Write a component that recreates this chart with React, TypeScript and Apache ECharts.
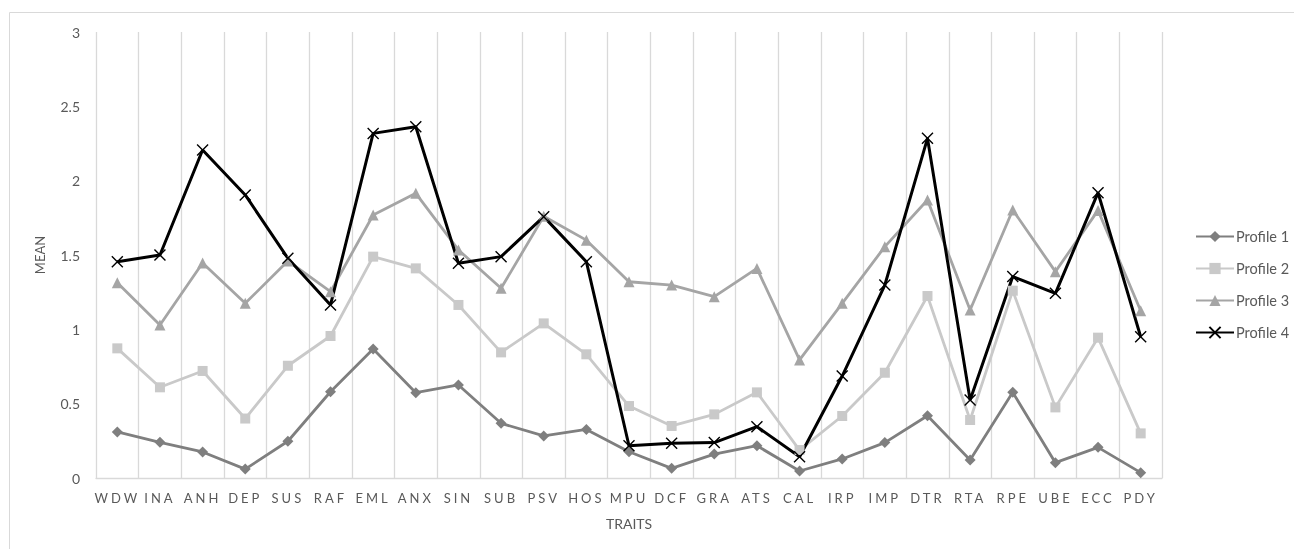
import React, { useEffect, useRef } from "react";
import * as echarts from "echarts";

const categories = ["WDW", "INA", "ANH", "DEP", "SUS", "RAF", "EML", "ANX", "SIN", "SUB", "PSV", "HOS", "MPU", "DCF", "GRA", "ATS", "CAL", "IRP", "IMP", "DTR", "RTA", "RPE", "UBE", "ECC", "PDY"];
const profile1 = [0.31, 0.24, 0.175, 0.06, 0.247, 0.58, 0.868, 0.574, 0.626, 0.368, 0.283, 0.327, 0.177, 0.065, 0.161, 0.217, 0.047, 0.128, 0.238, 0.419, 0.121, 0.576, 0.103, 0.206, 0.036];
const profile2 = [0.872, 0.61, 0.72, 0.4, 0.755, 0.955, 1.489, 1.41, 1.164, 0.845, 1.04, 0.832, 0.484, 0.35, 0.428, 0.576, 0.188, 0.417, 0.708, 1.224, 0.39, 1.26, 0.475, 0.944, 0.3];
const profile3 = [1.314, 1.029, 1.446, 1.175, 1.46, 1.253, 1.769, 1.915, 1.534, 1.276, 1.76, 1.6, 1.32, 1.298, 1.22, 1.41, 0.794, 1.175, 1.556, 1.87, 1.13, 1.803, 1.388, 1.8, 1.125];
const profile4 = [1.455, 1.5, 2.206, 1.904, 1.478, 1.164, 2.318, 2.363, 1.444, 1.489, 1.758, 1.455, 0.217, 0.233, 0.238, 0.345, 0.143, 0.686, 1.298, 2.285, 0.525, 1.355, 1.242, 1.919, 0.95];
const seriesNames = ["Profile 1", "Profile 2", "Profile 3", "Profile 4"];
const yTicks = [0, 0.5, 1, 1.5, 2, 2.5, 3];

const FONT = "Lato, 'Open Sans', sans-serif";
const TEXT = "#595959";
const GRID = "#d9d9d9";
const CROSS = "path://M0,0 L10,10 M10,0 L0,10";

export default function App() {
  const ref = useRef<HTMLDivElement>(null);
  useEffect(() => {
    if (!ref.current) return;
    const chart = echarts.init(ref.current, undefined, { renderer: "svg" });
    const mk = (name: string, data: number[], color: string, symbol: string, size: number, width: number, extra: any = {}) => ({
      name,
      type: "line",
      data,
      symbol,
      symbolSize: size,
      showAllSymbol: true,
      lineStyle: { color, width },
      itemStyle: { color, ...extra },
      emphasis: { disabled: true },
    });
    chart.setOption({
      animation: false,
      textStyle: { fontFamily: FONT },
      graphic: [
        {
          type: "rect",
          shape: { x: 9.5, y: 12.5, width: 1400, height: 700 },
          style: { fill: "none", stroke: GRID, lineWidth: 1 },
          silent: true,
        },
      ],
      grid: { left: 96, right: 132, top: 32, bottom: 71, containLabel: false },
      legend: {
        orient: "vertical",
        left: 1190,
        top: 224,
        itemWidth: 38,
        itemHeight: 14,
        itemGap: 17,
        data: seriesNames,
        textStyle: { color: TEXT, fontSize: 14.5, fontFamily: FONT, padding: [0, 0, 0, -3] },
      },
      xAxis: {
        type: "category",
        data: categories,
        boundaryGap: true,
        name: "TRAITS",
        nameLocation: "middle",
        nameGap: 38,
        nameTextStyle: { color: TEXT, fontSize: 14, fontFamily: FONT },
        axisLine: { lineStyle: { color: GRID, width: 1.3 } },
        axisTick: { show: false },
        axisLabel: { color: TEXT, fontSize: 13, margin: 13, fontFamily: FONT, interval: 0 },
        splitLine: { show: true, interval: 0, lineStyle: { color: GRID, width: 1.3 } },
      },
      yAxis: {
        type: "value",
        min: 0,
        max: 3,
        interval: 0.5,
        name: "MEAN",
        nameLocation: "middle",
        nameGap: 50,
        nameRotate: 90,
        nameTextStyle: { color: TEXT, fontSize: 13, fontFamily: FONT },
        axisLine: { show: false },
        axisTick: { show: false },
        splitLine: { show: false },
        axisLabel: {
          color: TEXT,
          fontSize: 14,
          margin: 16,
          fontFamily: FONT,
          formatter: (v: number) => (yTicks.includes(v) ? String(v) : ""),
        },
      },
      series: [
        mk(seriesNames[0], profile1, "#7f7f7f", "diamond", 11, 2.8),
        mk(seriesNames[1], profile2, "#c9c9c9", "rect", 10, 2.8),
        mk(seriesNames[2], profile3, "#a5a5a5", "triangle", 11, 2.8),
        mk(seriesNames[3], profile4, "#000000", CROSS, 11, 3, { borderColor: "#000000", borderWidth: 1.4 }),
      ],
    });
    const applySpacing = () => {
      if (!ref.current) return;
      ref.current.querySelectorAll("text").forEach((t) => {
        if (categories.includes((t.textContent || "").trim())) {
          (t as SVGTextElement).style.letterSpacing = "3px";
        }
      });
    };
    applySpacing();
    chart.on("finished", applySpacing);
    return () => chart.dispose();
  }, []);
  return <div ref={ref} style={{ position: "fixed", left: 0, top: 0, width: 1294, height: 549 }} />;
}
